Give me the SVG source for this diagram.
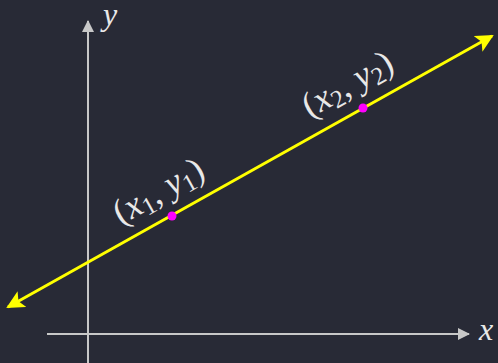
<svg xmlns="http://www.w3.org/2000/svg" width="498" height="363" viewBox="0 0 498 363">
<defs>
<style>
.axis{stroke:#c8c8c8;stroke-width:2;fill:none}
.line{stroke:#ffff00;stroke-width:3;fill:none}
.lbl{font-family:"Liberation Serif","DejaVu Serif",serif;fill:#e8e8e8;font-size:36px}
.ax{font-size:32px}
.it{font-style:italic}
.sub{font-size:25px}
</style>
<marker id="ah" viewBox="0 0 12 12" refX="11" refY="6" markerWidth="12" markerHeight="12" markerUnits="userSpaceOnUse" orient="auto">
<path d="M0,0 L12,6 L0,12 Z" fill="#c8c8c8"/>
</marker>
<marker id="yh" viewBox="0 0 18 18" refX="16" refY="9" markerWidth="18" markerHeight="18" markerUnits="userSpaceOnUse" orient="auto-start-reverse">
<path d="M0,0 L18,9 L0,18 L4,9 Z" fill="#ffff00"/>
</marker>
</defs>
<rect width="498" height="363" fill="#282a36"/>
<g id="connectors">
<line class="axis" x1="88" y1="363" x2="88" y2="21" marker-end="url(#ah)"/>
<line class="axis" x1="47" y1="334" x2="469" y2="334" marker-end="url(#ah)"/>
<line class="line" x1="8" y1="307" x2="492" y2="36" marker-start="url(#yh)" marker-end="url(#yh)"/>
</g>
<g id="y-label"><text class="lbl it ax" x="103" y="25">y</text></g>
<g id="x-label"><text class="lbl it ax" x="479" y="340">x</text></g>
<g id="p1">
<circle cx="172" cy="216" r="4.5" fill="#ff00ff"/>
<text class="lbl" transform="translate(164,201) rotate(-29.5)" text-anchor="middle">(<tspan class="it">x</tspan><tspan class="sub" dy="5">1</tspan><tspan dy="-5">, </tspan><tspan class="it">y</tspan><tspan class="sub" dy="5">1</tspan><tspan dy="-5">)</tspan></text>
</g>
<g id="p2">
<circle cx="363" cy="108" r="4.5" fill="#ff00ff"/>
<text class="lbl" transform="translate(353,94) rotate(-29.5)" text-anchor="middle">(<tspan class="it">x</tspan><tspan class="sub" dy="5">2</tspan><tspan dy="-5">, </tspan><tspan class="it">y</tspan><tspan class="sub" dy="5">2</tspan><tspan dy="-5">)</tspan></text>
</g>
</svg>
